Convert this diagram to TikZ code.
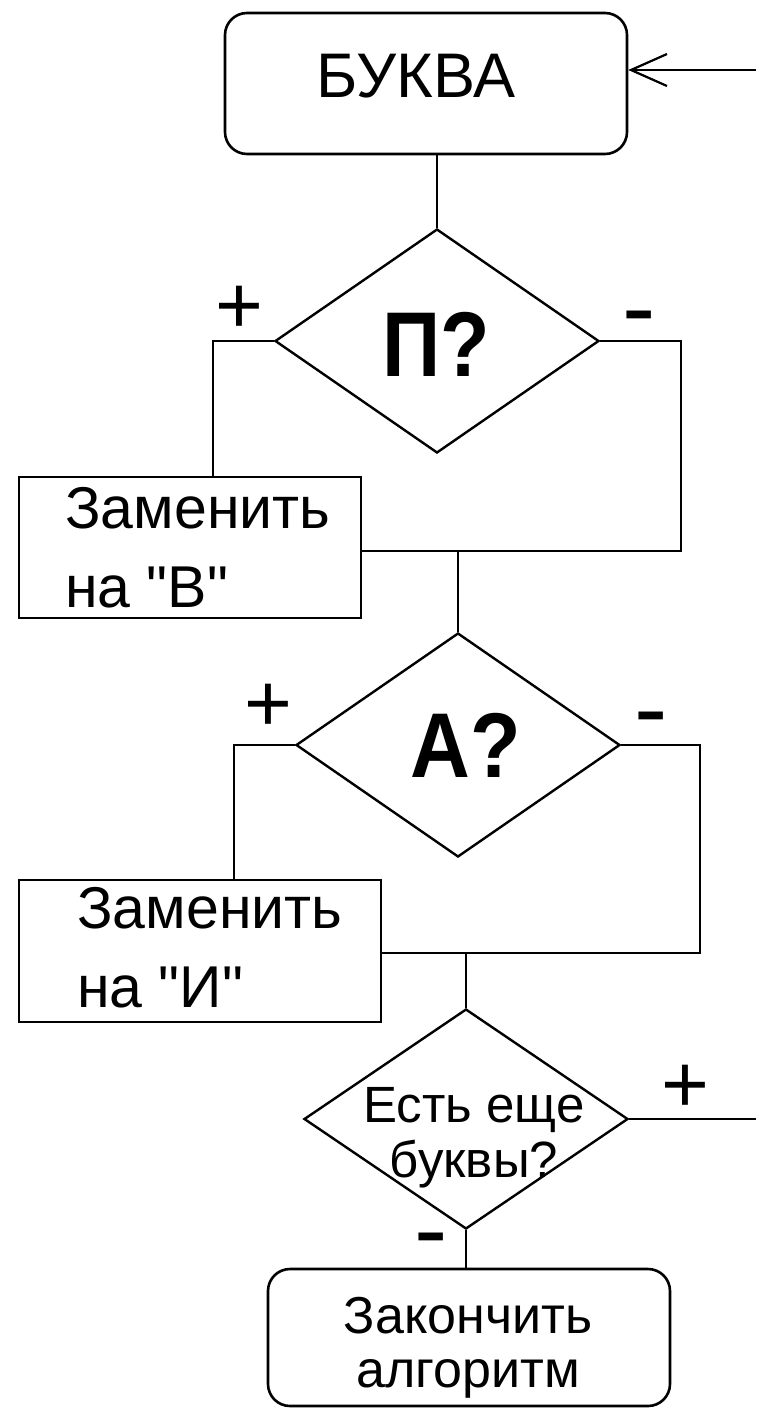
\documentclass[tikz,border=0pt]{standalone}
\usepackage{fontspec}
\usepackage{graphicx}
\setmainfont{Liberation Sans}
\newfontfamily\plainsans{Liberation Sans}
\usetikzlibrary{shapes.geometric,arrows.meta}
\begin{document}
\begin{tikzpicture}[x=1pt,y=-1pt,
  box/.style={draw, line width=2.6pt, inner sep=0pt},
  rbox/.style={box, rounded corners=22pt},
  dia/.style={draw, diamond, line width=2.4pt, inner sep=0pt, minimum width=324pt},
  conn/.style={line width=2.2pt},
  arrowin/.style={conn, -{Straight Barb[length=36pt,width=32pt]}},
  ftitle/.style={inner sep=0pt, font=\plainsans\fontsize{63pt}{63pt}\selectfont},
  fq/.style={inner sep=0pt, font=\plainsans\fontsize{92pt}{92pt}\selectfont\bfseries},
  fz/.style={inner sep=0pt, font=\plainsans\fontsize{59pt}{59pt}\selectfont},
  fe/.style={inner sep=0pt, font=\plainsans\fontsize{51pt}{51pt}\selectfont},
  ff/.style={inner sep=0pt, font=\plainsans\fontsize{52pt}{52pt}\selectfont},
  fplus/.style={inner sep=0pt, font=\plainsans\fontsize{82pt}{82pt}\selectfont},
  fminus/.style={inner sep=0pt, anchor=base, font=\plainsans\fontsize{100pt}{100pt}\selectfont}]
\useasboundingbox (0,0) rectangle (756,1410);
\fill[white] (0,0) rectangle (756,1410);

% shapes
\node[rbox, minimum width=402pt, minimum height=141pt] (top) at (426,83.5) {};
\node[dia, minimum height=224pt] (d1) at (437,341) {};
\node[box, minimum width=342pt, minimum height=141pt] (b1) at (190,547.5) {};
\node[dia, minimum height=224pt] (d2) at (458,745) {};
\node[box, minimum width=362pt, minimum height=142pt] (b2) at (200,951) {};
\node[dia, minimum height=220pt] (d3) at (466,1119) {};
\node[rbox, minimum width=402pt, minimum height=137pt] (fin) at (469,1337.5) {};

% texts
\node[ftitle] (tbk) at (416,76) {БУКВА};
\node[fq] (tp) at (436,344) {\scalebox{0.88}[1]{П?}};
\node[fq] (ta) at (466,745) {\scalebox{0.9}[1]{А?}};
\node[fz, anchor=base west] (b1a) at (65,528) {Заменить};
\node[fz, anchor=base west] (b1b) at (65,607) {на "В"};
\node[fz, anchor=base west] (b2a) at (77,928) {Заменить};
\node[fz, anchor=base west] (b2b) at (77,1007) {на "И"};
\node[fe, anchor=base] (e1) at (474,1122) {Есть еще};
\node[fe, anchor=base] (e2) at (474,1177) {буквы?};
\node[ff, anchor=base] (z1) at (468,1333) {Закончить};
\node[ff, anchor=base] (z2) at (468,1387) {алгоритм};

% branch labels
\node[fplus] (p1) at (239,310) {+};
\node[fminus] (n1) at (639,341) {-};
\node[fplus] (p2) at (268,708) {+};
\node[fminus] (n2) at (651,742) {-};
\node[fplus] (p3) at (685,1089) {+};
\node[fminus] (n3) at (431,1263) {-};

% junction coordinates
\coordinate (in) at (756,70);
\coordinate (j1) at (213,341);
\coordinate (r1) at (681,341);
\coordinate (m1) at (681,551);
\coordinate (j2) at (234,745);
\coordinate (r2) at (700,745);
\coordinate (m2) at (700,953);
\coordinate (out) at (756,1119);

% connectors
\draw[arrowin] (in) -- (in -| top.east);
\draw[conn] (top.south -| d1.north) -- (d1.north);
\draw[conn] (d1.west) -- (j1) -- (j1 |- b1.north);
\draw[conn] (d1.east) -- (r1) -- (m1) -- (m1 -| b1.east);
\draw[conn] (m1 -| d2.north) -- (d2.north);
\draw[conn] (d2.west) -- (j2) -- (j2 |- b2.north);
\draw[conn] (d2.east) -- (r2) -- (m2) -- (m2 -| b2.east);
\draw[conn] (m2 -| d3.north) -- (d3.north);
\draw[conn] (d3.east) -- (out);
\draw[conn] (d3.south) -- (fin.north -| d3.south);
\end{tikzpicture}
\end{document}
